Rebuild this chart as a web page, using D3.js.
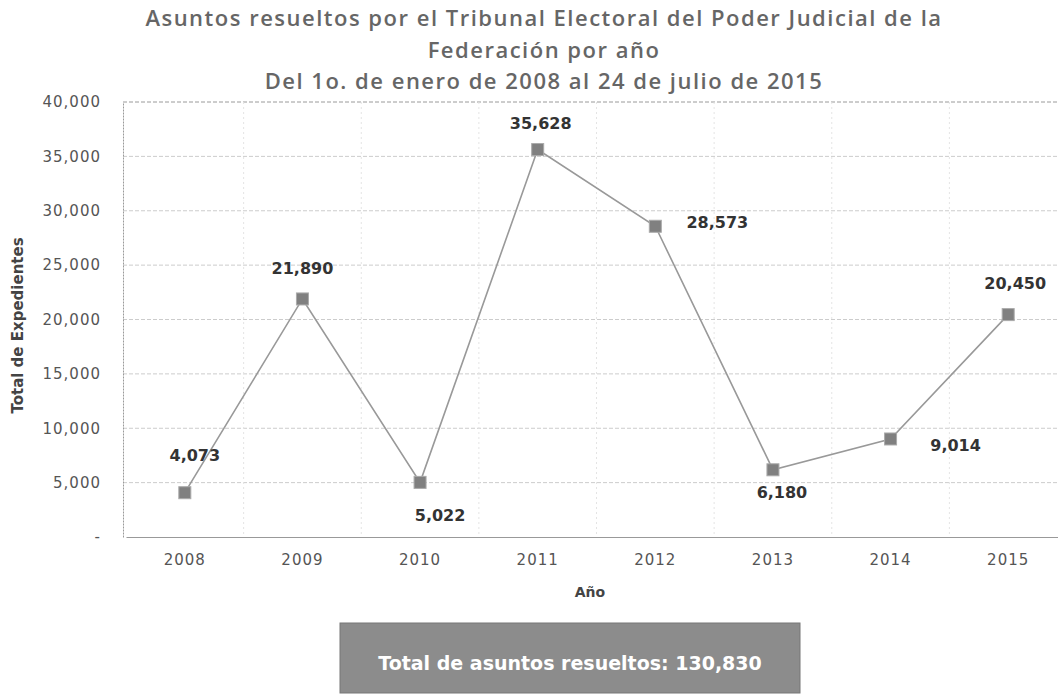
<!DOCTYPE html>
<html lang="es">
<head>
<meta charset="utf-8">
<title>Asuntos resueltos por año</title>
<script src="https://cdnjs.cloudflare.com/ajax/libs/d3/7.8.5/d3.min.js"></script>
<style>
  html, body { margin: 0; padding: 0; background: #fff; }
  svg { display: block; font-family: 'Open Sans', sans-serif; }
  .grid line { stroke: #cccccc; stroke-dasharray: 4,2; }
  .vgrid line { stroke: #e4e4e4; stroke-dasharray: 2,3; }
  .tick text { fill: #555; font-size: 15px; font-family: 'DejaVu Sans', sans-serif; letter-spacing: 1px; }
  .lbl { fill: #333; font-size: 16px; font-weight: bold; font-family: 'DejaVu Sans', sans-serif; }
</style>
</head>
<body>
<svg width="1058" height="696"></svg>
<script>
// data
var years = ["2008", "2009", "2010", "2011", "2012", "2013", "2014", "2015"];
var totals = [4073, 21890, 5022, 35628, 28573, 6180, 9014, 20450];
var yTicks = [0, 5000, 10000, 15000, 20000, 25000, 30000, 35000, 40000];
// label offset relative to marker (dx, dy of label centre)
var labelPos = [[10, -38], [0, -31], [20, 33], [3, -27], [62, -4], [9, 22], [65, 6], [7, -32]];
var titleLines = ["Asuntos resueltos por el Tribunal Electoral del Poder Judicial de la",
                  "Federación por año",
                  "Del 1o. de enero de 2008 al 24 de julio de 2015"];
var totalText = "Total de asuntos resueltos: 130,830";

var svg = d3.select("svg"),
    margin = {top: 102, right: 0, bottom: 159, left: 123},
    width = +svg.attr("width") - margin.left - margin.right,
    height = +svg.attr("height") - margin.top - margin.bottom;

// the plot runs a little past the right edge of the picture
var x = d3.scaleBand().domain(years).range([3, width + 9]),
    y = d3.scaleLinear().domain([0, 40000]).range([height, 0]);

var g = svg.append("g")
    .attr("transform", "translate(" + margin.left + "," + margin.top + ")");

// title
svg.append("g").selectAll("text")
  .data(titleLines)
  .enter().append("text")
    .attr("x", 544)
    .attr("y", function(d, i) { return 26 + i * 31.5; })
    .attr("text-anchor", "middle")
    .style("font-size", "22px")
    .style("font-weight", 600)
    .style("letter-spacing", "1.5px")
    .style("fill", "#666")
    .text(function(d) { return d; });

// horizontal gridlines
g.append("g")
    .attr("class", "grid")
  .selectAll("line")
  .data(yTicks.slice(1))
  .enter().append("line")
    .attr("x1", 0).attr("x2", width)
    .attr("y1", function(d) { return y(d); })
    .attr("y2", function(d) { return y(d); })
    .style("stroke", function(d) { return d === 40000 ? "#9a9a9a" : null; });

// vertical faint gridlines on band boundaries
g.append("g")
    .attr("class", "vgrid")
  .selectAll("line")
  .data(years.slice(1))
  .enter().append("line")
    .attr("x1", function(d) { return x(d); })
    .attr("x2", function(d) { return x(d); })
    .attr("y1", 0).attr("y2", height);

// y axis
var yAxis = g.append("g")
    .call(d3.axisLeft(y).tickValues(yTicks).tickSize(0).tickPadding(22)
      .tickFormat(function(d) { return d === 0 ? "-" : d3.format(",")(d); }));
yAxis.select(".domain").attr("stroke", "#999").attr("stroke-dasharray", "2,1");

// x axis
var xAxis = g.append("g")
    .attr("transform", "translate(0," + height + ")")
    .call(d3.axisBottom(x).tickSize(0).tickPadding(17));
xAxis.select(".domain").attr("stroke", "#999");

// axis titles
svg.append("text")
    .attr("transform", "translate(23," + (margin.top + height / 2 + 6) + ") rotate(-90)")
    .attr("text-anchor", "middle")
    .style("font-size", "15px")
    .style("font-weight", "bold")
    .style("font-family", "'DejaVu Sans', sans-serif")
    .style("fill", "#444")
    .text("Total de Expedientes");

svg.append("text")
    .attr("x", 590)
    .attr("y", 597)
    .attr("text-anchor", "middle")
    .style("font-size", "14px")
    .style("font-weight", "bold")
    .style("font-family", "'DejaVu Sans', sans-serif")
    .style("fill", "#444")
    .text("Año");

// line
var line = d3.line()
    .x(function(d, i) { return x(years[i]) + x.bandwidth() / 2; })
    .y(function(d) { return y(d); });

g.append("path")
    .datum(totals)
    .attr("fill", "none")
    .attr("stroke", "#999")
    .attr("stroke-width", 1.6)
    .attr("d", line);

// markers
g.selectAll(".mk")
  .data(totals)
  .enter().append("rect")
    .attr("class", "mk")
    .attr("x", function(d, i) { return x(years[i]) + x.bandwidth() / 2 - 6; })
    .attr("y", function(d) { return y(d) - 6; })
    .attr("width", 12)
    .attr("height", 12)
    .attr("fill", "#808080")
    .attr("stroke", "#aaa");

// data labels
g.selectAll(".lbl")
  .data(totals)
  .enter().append("text")
    .attr("class", "lbl")
    .attr("text-anchor", "middle")
    .attr("x", function(d, i) { return x(years[i]) + x.bandwidth() / 2 + labelPos[i][0]; })
    .attr("y", function(d, i) { return y(d) + labelPos[i][1] + 6; })
    .text(function(d) { return d3.format(",")(d); });

// total box
svg.append("rect")
    .attr("x", 340).attr("y", 623)
    .attr("width", 460).attr("height", 70)
    .attr("fill", "#8c8c8c")
    .attr("stroke", "#777");

svg.append("text")
    .attr("x", 570).attr("y", 670)
    .attr("text-anchor", "middle")
    .style("font-size", "19px")
    .style("font-weight", "bold")
    .style("font-family", "'DejaVu Sans', sans-serif")
    .style("fill", "#fff")
    .text(totalText);
</script>
</body>
</html>
